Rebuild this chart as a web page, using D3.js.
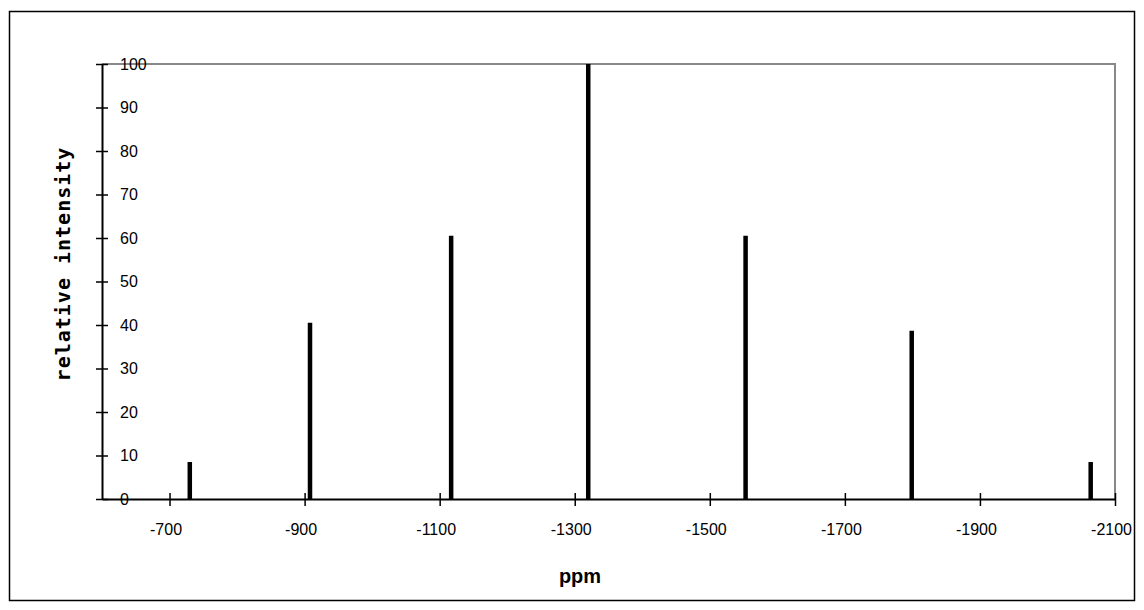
<!DOCTYPE html>
<html>
<head>
<meta charset="utf-8">
<script src="https://cdn.jsdelivr.net/npm/d3@7"></script>
<style>
  body { margin: 0; background: #fff; }
  svg { display: block; }
</style>
</head>
<body>
<svg id="chart" width="1144" height="610"></svg>
<script>
// ---- data ----
const peakPpm = [-730, -908, -1117, -1320, -1553, -1799, -2064];
const peakIntensity = [8.5, 40.5, 60.5, 100, 60.5, 38.7, 8.5];
const xTicks = [-700, -900, -1100, -1300, -1500, -1700, -1900, -2100];
const yTicks = [0, 10, 20, 30, 40, 50, 60, 70, 80, 90, 100];
const xTitle = "ppm";
const yTitle = "relative intensity";

const svg = d3.select("#chart");
const plot = { left: 102, right: 1115, top: 64, bottom: 499 };

const x = d3.scaleLinear().domain([-600, -2100]).range([plot.left, plot.right]);
const y = d3.scaleLinear().domain([0, 100]).range([plot.bottom, plot.top]);
const fmt = d => String(d);

// outer frame
svg.append("rect")
  .attr("x", 9.5).attr("y", 11.5).attr("width", 1125).attr("height", 589)
  .attr("fill", "none").attr("stroke", "#000").attr("stroke-width", 1.5);

// plot frame: top & right grey
svg.append("path")
  .attr("d", `M${plot.left},${plot.top}H${plot.right}V${plot.bottom}`)
  .attr("fill", "none").attr("stroke", "#888").attr("stroke-width", 2);

// peaks
svg.append("g").selectAll("line")
  .data(peakPpm.map((p, i) => ({ p, v: peakIntensity[i] })))
  .join("line")
  .attr("x1", d => x(d.p)).attr("x2", d => x(d.p))
  .attr("y1", y(0)).attr("y2", d => y(d.v))
  .attr("stroke", "#000").attr("stroke-width", 4.5);

// y axis
const yAxis = svg.append("g").attr("transform", `translate(${plot.left},0)`)
  .call(d3.axisLeft(y).tickValues(yTicks).tickSizeInner(-7).tickSizeOuter(0).tickPadding(-18).tickFormat(fmt));
yAxis.select(".domain").attr("stroke", "#000").attr("stroke-width", 2);
yAxis.selectAll(".tick line").attr("x1", -6).attr("x2", 6).attr("stroke", "#000").attr("stroke-width", 1.5);
yAxis.selectAll(".tick text")
  .attr("text-anchor", "start").attr("x", 18)
  .attr("font-family", "Liberation Sans, Arial, sans-serif").attr("font-size", 16).attr("fill", "#000");

// x axis
const xAxis = svg.append("g").attr("transform", `translate(0,${plot.bottom})`)
  .call(d3.axisBottom(x).tickValues(xTicks).tickSizeInner(7).tickSizeOuter(0).tickPadding(18).tickFormat(fmt));
xAxis.select(".domain").attr("stroke", "#000").attr("stroke-width", 2);
xAxis.selectAll(".tick line").attr("y1", -6).attr("y2", 7).attr("stroke", "#000").attr("stroke-width", 1.5);
xAxis.selectAll(".tick text")
  .attr("dx", "-4")
  .attr("font-family", "Liberation Sans, Arial, sans-serif").attr("font-size", 16).attr("fill", "#000");

// titles
svg.append("text")
  .attr("x", 580).attr("y", 583)
  .attr("text-anchor", "middle")
  .attr("font-family", "Liberation Sans, Arial, sans-serif")
  .attr("font-weight", "bold").attr("font-size", 20)
  .text(xTitle);

svg.append("text")
  .attr("transform", "translate(70,264) rotate(-90)")
  .attr("text-anchor", "middle")
  .attr("font-family", "DejaVu Sans Mono, monospace")
  .attr("font-weight", "bold").attr("font-size", 20)
  .attr("letter-spacing", 1)
  .text(yTitle);
</script>
</body>
</html>
